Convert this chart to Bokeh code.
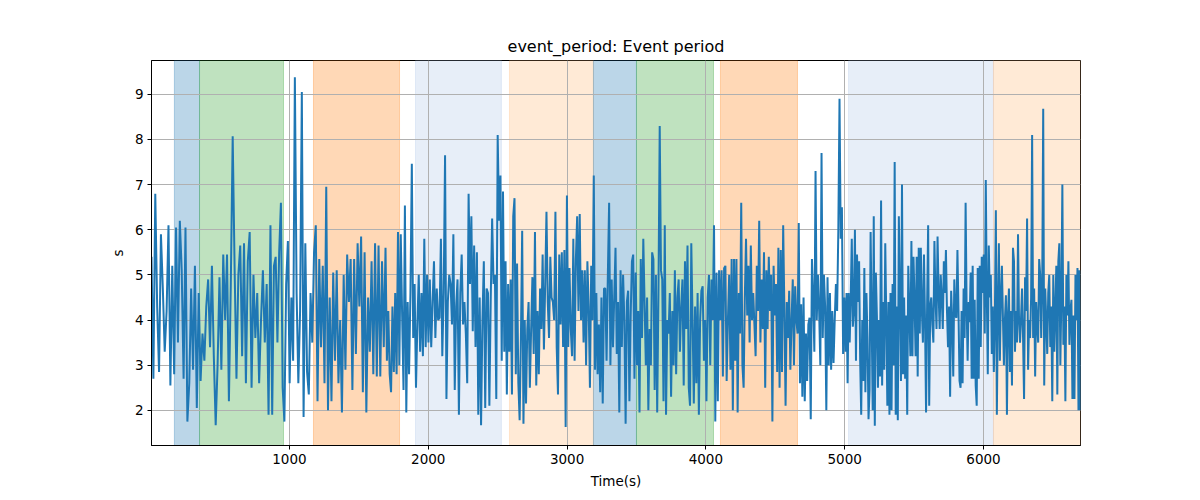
import numpy as np
from bokeh.plotting import figure
from bokeh.models import BoxAnnotation, FixedTicker, Range1d
from bokeh.embed import file_html
from bokeh.resources import INLINE

# ---- data ----
# time boundaries (s) of the sampled stretches; values within each stretch are evenly spaced in time
segment_bounds = [6, 863, 1692, 2520, 3349, 4177, 5006, 5835, 6699]

seg1 = [5.4, 2.7, 6.8, 4.3, 2.85, 5.9, 4.7, 3.3, 4.2, 6.1, 2.55, 5.2, 2.8, 6.05, 3.5, 6.2, 5.1, 2.7, 6.05, 1.75,
        2.6, 4.7, 2.9, 5.2, 2.05, 4.6, 2.65, 3.7, 3.1, 4.3, 4.9, 3.4, 5.2, 3.2, 1.67, 3.0, 4.95, 2.9, 5.45, 4.0,
        5.45, 2.2, 4.8, 8.07, 5.2, 2.7, 5.0, 5.65, 3.2, 5.7, 2.6, 5.3, 5.95, 2.5, 5.0, 3.6, 4.6, 2.6, 4.0, 5.1,
        3.5, 4.8, 1.9]
seg2 = [6.1, 1.9, 5.2, 5.4, 3.5, 5.5, 6.6, 2.5, 1.75,
        4.8, 5.75, 2.6, 4.5, 3.1, 9.38, 4.6, 2.6, 4.2, 9.05, 1.85, 5.7, 2.85, 2.35, 4.6, 3.5, 5.5, 6.1, 2.2, 5.35,
        3.4, 5.2, 2.6, 6.95, 2.0, 4.5, 2.2, 5.05, 3.1, 5.1, 2.6, 4.0, 1.95, 5.0, 2.9, 5.45, 4.4, 5.35, 2.45, 5.35,
        3.25, 5.7, 4.3, 5.85, 2.4, 5.5, 1.95, 4.5, 3.3, 5.3, 2.8, 5.7, 2.75, 5.65, 2.75, 5.3, 3.4]
seg3 = [5.6, 3.1, 4.2, 2.8, 2.4, 4.3, 2.85, 4.6, 2.8, 5.95, 3.0,
        5.9, 4.1, 2.45, 6.54, 1.95, 4.4, 2.8, 4.6, 7.46, 3.6, 4.8, 2.5,
        3.9, 5.0, 3.3, 4.6, 3.2, 5.8, 3.4, 5.0, 3.5, 4.9, 3.4, 4.4, 5.3, 3.6, 4.7, 4.0, 4.05, 5.8, 3.2, 4.6,
        7.65, 2.25, 4.4, 5.0, 4.8, 3.9, 5.9, 2.45, 4.3, 4.9, 1.9, 4.6, 5.45, 3.9, 4.4, 3.7, 2.6, 6.8, 4.8, 6.3,
        3.75, 5.65, 3.4, 5.5, 1.9, 4.5, 1.67, 4.0, 5.3, 2.05, 4.7, 4.6, 2.1, 4.5, 6.25, 4.8, 5.0, 2.25, 8.1, 6.2]
seg4 = [7.2, 3.1, 6.85, 3.3, 5.3, 2.35, 4.8, 3.3, 4.9, 2.35, 6.3, 6.7, 2.8, 5.25, 2.6, 1.78, 3.6, 5.98, 1.7, 4.0,
        2.15, 3.8, 4.4, 2.5, 3.8, 4.95, 3.25, 5.95, 2.55, 4.2, 2.8, 4.7, 3.8, 5.45, 3.35, 4.8, 6.4, 4.4, 3.6, 5.4,
        4.5, 4.4, 4.0, 6.4, 3.4, 2.35, 5.45, 3.9, 5.5, 3.4, 5.55, 1.63, 6.76, 3.4, 5.15, 3.8, 3.2, 5.8, 3.1, 5.35,
        6.3, 4.2, 6.35, 4.0, 5.1, 3.5, 5.1, 3.0, 5.3, 4.3, 2.5, 5.2, 4.0, 7.2, 2.9, 4.6, 2.8, 3.9, 2.4, 4.5,
        2.15, 4.7, 4.7, 3.1, 5.0, 6.6, 3.0, 4.9, 3.4, 4.5]
seg5 = [5.6, 3.25, 4.4, 1.95, 5.1, 3.4, 5.0, 4.0, 1.7, 4.4, 4.65, 2.2, 4.1, 5.3, 5.45, 2.7, 5.05, 3.0, 4.2, 1.95,
        5.35, 3.6, 5.8, 4.4, 3.0, 4.5, 2.0, 3.8, 3.0, 5.5, 5.35, 2.45, 5.0, 1.95, 4.6, 8.3, 5.1, 4.9, 2.2, 6.1,
        1.9, 4.0, 3.7, 4.6, 2.3, 4.2, 3.0, 5.1, 2.8, 4.5, 4.9, 3.3, 4.3, 4.9, 2.55, 5.3, 3.8, 5.65, 2.5, 2.1,
        5.7, 4.0, 2.15, 4.3, 2.6, 4.6, 1.9, 4.0, 4.65, 4.75, 3.1, 4.0, 2.2, 4.5, 5.0, 3.0, 4.9, 4.0, 6.1, 1.75,
        5.05, 2.2, 5.1, 4.0, 5.1, 2.75, 5.15, 5.2, 2.65, 4.0, 5.0]
seg6 = [2.9, 5.35, 2.0, 5.35, 3.1, 5.35, 1.95, 4.6, 3.7, 6.6, 3.0, 2.5, 4.5, 5.8, 4.1, 5.2, 3.5, 5.65, 4.0, 4.6,
        3.9, 3.2, 5.2, 4.2, 6.2, 3.5, 4.9, 3.8, 5.5, 2.5, 5.1, 3.8, 5.4, 4.2, 5.0, 1.75, 5.2, 4.1, 4.8, 2.85,
        5.6, 2.5, 5.55, 2.85, 6.1, 4.2, 2.1, 4.4, 3.6, 4.65, 2.9, 4.0, 4.9, 3.0, 4.75, 4.0, 3.7, 6.15, 2.6, 4.35,
        2.3, 4.5, 2.2, 3.7, 2.65, 3.9, 4.05, 1.8, 5.35, 4.5, 3.3, 7.3, 4.0, 5.0, 4.2, 3.0, 7.7, 3.6, 5.0, 4.3,
        2.0, 4.95, 3.0, 4.6, 2.9, 4.2, 3.05, 4.0, 4.8, 4.2, 5.98, 8.9, 5.8, 6.5, 3.25, 4.5]
seg7 = [3.3, 4.6, 2.6, 4.6, 3.5, 4.5, 5.8, 3.85, 4.2, 6.0, 3.1, 5.45, 4.4, 5.3, 3.1, 1.9, 4.0, 2.65, 5.15, 2.4,
        4.6, 3.6, 1.8, 2.45, 5.95, 4.0, 2.0, 6.3, 1.66, 5.05, 4.1, 2.5, 4.0, 2.75, 6.65, 2.55, 4.4, 2.9, 5.7, 4.0,
        2.1, 4.4, 1.9, 4.6, 2.0, 4.8, 3.0, 7.5, 1.9, 4.3, 1.78, 6.3, 4.5, 2.65, 7.0, 2.8, 4.5, 2.7, 4.1, 1.9,
        5.2, 4.2, 3.2, 5.75, 3.2, 5.4, 4.4, 3.2, 5.4, 2.75, 5.6, 3.7, 5.6, 4.2, 3.5, 5.45, 4.0, 1.95, 4.3, 6.1,
        2.1, 4.3, 4.5, 3.9, 3.5, 5.75, 4.5, 3.8, 5.85, 4.6, 3.8, 5.0, 4.5, 3.8, 5.3, 4.6, 5.55, 4.2, 3.4, 4.3,
        2.3, 4.65, 4.0, 2.75, 4.9, 4.1, 4.05, 5.55, 4.2, 2.65]
seg8 = [2.5, 4.2, 2.6, 4.7, 3.6, 6.6, 4.3, 3.1, 4.4, 3.95, 5.05, 2.7, 5.2, 2.7, 4.45, 2.55, 2.1, 5.15, 2.7, 5.2,
        3.4, 5.4, 4.6, 5.45, 3.7, 7.1, 4.6, 2.8, 5.65, 4.5, 5.0, 3.25, 4.3, 2.85, 4.0, 6.43, 1.9, 4.2, 5.7, 3.1,
        4.5, 5.2, 4.1, 3.0, 4.0, 4.55, 1.9, 4.1, 4.7, 2.85, 4.2, 2.55, 5.6, 5.3, 3.3, 4.2, 3.5, 5.9, 4.0, 3.5,
        4.05, 4.7, 3.6, 2.25, 4.95, 4.2, 6.25, 2.9, 4.0, 3.6, 4.5, 8.1, 3.6, 4.7, 2.75, 4.4, 3.9, 3.5, 5.35, 5.0,
        3.6, 4.7, 8.68, 2.55, 4.7, 4.0, 3.25, 4.6, 5.0, 3.4, 4.3, 2.2, 5.0, 3.3, 4.2, 5.2, 2.35, 5.3, 5.7, 3.0,
        4.5, 7.0, 3.45, 4.3, 2.2, 5.0, 4.1, 5.3, 3.45, 4.2, 4.45, 2.25, 4.1, 2.25, 5.0, 4.0, 5.15, 2.0, 5.1, 2.0]
segments = [seg1, seg2, seg3, seg4, seg5, seg6, seg7, seg8]

# shaded periods
span_starts = [171, 352, 1173, 1908, 2585, 3190, 3500, 4105, 5028, 6072]
span_ends = [352, 957, 1793, 2527, 3190, 3500, 4055, 4660, 6072, 6699]
span_colors = ["#1f77b4", "#2ca02c", "#ff7f0e", "#aec7e8", "#ffbb78",
               "#1f77b4", "#2ca02c", "#ff7f0e", "#aec7e8", "#ffbb78"]

x_ticks = [1000, 2000, 3000, 4000, 5000, 6000]
y_ticks = [2, 3, 4, 5, 6, 7, 8, 9]
title_text = "event_period: Event period"
x_label = "Time(s)"
y_label = "s"

# ---- build time axis ----
times = []
values = []
for i, seg in enumerate(segments):
    last = i == len(segments) - 1
    t = np.linspace(segment_bounds[i], segment_bounds[i + 1], len(seg), endpoint=last)
    times.extend(t.tolist())
    values.extend(seg)

FONT = "DejaVu Sans"

p = figure(width=1184, height=484, output_backend="svg", toolbar_location=None,
           frame_width=929, frame_height=385,
           x_range=Range1d(segment_bounds[0], segment_bounds[-1]),
           y_range=Range1d(1.22, 9.75),
           min_border_left=151, min_border_right=104, min_border_top=60, min_border_bottom=39,
           title=title_text)

p.title.align = "center"
p.title.text_font = FONT
p.title.text_font_size = "16px"
p.title.text_font_style = "normal"
p.title.text_color = "black"

for s, e, c in zip(span_starts, span_ends, span_colors):
    p.add_layout(BoxAnnotation(left=s, right=e, fill_color=c, fill_alpha=0.3,
                               line_color=c, line_alpha=0.3, line_width=1, level="image"))

p.line(times, values, line_color="#1f77b4", line_width=2)

p.xaxis.ticker = FixedTicker(ticks=x_ticks)
p.yaxis.ticker = FixedTicker(ticks=y_ticks)
p.xaxis.axis_label = x_label
p.yaxis.axis_label = y_label
for ax in (p.xaxis[0], p.yaxis[0]):
    ax.axis_label_text_font = FONT
    ax.axis_label_text_font_size = "13.5px"
    ax.axis_label_text_font_style = "normal"
    ax.axis_label_text_color = "black"
    ax.major_label_text_font = FONT
    ax.major_label_text_font_size = "13.5px"
    ax.major_label_text_color = "black"
    ax.major_tick_in = 0
    ax.major_tick_out = 4
    ax.minor_tick_out = 0
    ax.minor_tick_in = 0
    ax.axis_line_color = "black"
    ax.major_tick_line_color = "black"
    ax.major_label_standoff = 4
    ax.axis_label_standoff = 6

p.grid.grid_line_color = "#b0b0b0"
p.grid.grid_line_width = 1
p.outline_line_color = "black"
p.outline_line_width = 1
p.background_fill_color = "white"
p.border_fill_color = "white"

open("out.html", "w").write(file_html(p, INLINE))
